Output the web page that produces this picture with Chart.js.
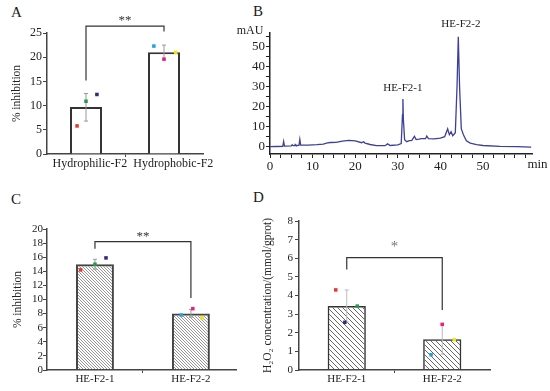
<!DOCTYPE html>
<html><head><meta charset="utf-8">
<script src="https://cdn.jsdelivr.net/npm/chart.js@4"></script>
<style>
html,body{margin:0;padding:0;background:#fff;width:550px;height:391px;overflow:hidden;}
canvas{position:absolute;display:block;}
.letter{position:absolute;font-family:"Liberation Serif","Times New Roman",serif;font-size:15px;line-height:1;color:#1a1a1a;}
</style></head><body>
<div class="letter" style="left:11px;top:5px">A</div>
<div class="letter" style="left:253px;top:4px">B</div>
<div class="letter" style="left:11px;top:192px">C</div>
<div class="letter" style="left:253px;top:190px">D</div>
<canvas id="cA" width="250" height="190" style="left:0;top:0"></canvas>
<canvas id="cB" width="320" height="190" style="left:230px;top:0"></canvas>
<canvas id="cC" width="250" height="201" style="left:0;top:190px"></canvas>
<canvas id="cD" width="300" height="201" style="left:250px;top:190px"></canvas>
<script>
// ================= DATA =================
// Panel A
const catsA = ['Hydrophilic-F2', 'Hydrophobic-F2'];
const meanA = [9.7, 21.0];
const errLoA = [6.8, 19.5];
const errHiA = [12.5, 22.5];
const repsA = [[5.8, 10.9, 12.3], [22.3, 19.6, 21.0]];
const sigA = {y: 26.4, leftEnd: 15.2, rightEnd: 25.3, text: '**', textY: 27.6};
const yTicksA = [0, 5, 10, 15, 20, 25];

// Panel B (chromatogram)
const timeB = [0, 1.5, 3.0, 3.2, 3.4, 5.0, 5.2, 5.4, 5.8, 5.9, 6.1, 6.8, 7.0, 7.2, 9.0, 11.0, 12.5, 13.5, 14.2,
  15.5, 17.0, 18.5, 20.0, 21.5, 22.0, 22.3, 23.5, 25.0, 27.0, 27.6, 28.2, 30.0, 30.8, 31.1, 31.2, 31.3, 31.6,
  32.1, 32.7, 33.3, 33.9, 34.3, 35.0, 35.5, 36.5, 36.8, 37.2, 38.5, 40.0, 41.0, 41.7, 42.1, 42.5, 42.9, 43.5,
  43.9, 44.2, 44.5, 44.9, 45.4, 46.1, 47.0, 48.5, 50.0, 54.0, 58.0, 61.3];
const mAUB = [0.0, 0.1, 0.2, 2.6, 0.3, 0.4, 1.0, 0.5, 0.5, 1.1, 0.6, 0.7, 3.7, 0.8, 0.8, 1.0, 1.3, 1.9, 2.1,
  2.2, 2.8, 3.2, 2.9, 2.0, 2.5, 1.8, 1.1, 0.5, 0.5, 1.4, 0.6, 0.9, 1.6, 16.0, 23.8, 14.0, 3.5,
  2.5, 3.0, 3.2, 5.2, 3.6, 3.8, 4.0, 4.0, 5.3, 4.0, 3.9, 4.3, 5.0, 8.9, 6.0, 7.5, 5.5, 7.0,
  30.0, 55.0, 30.0, 9.0, 6.0, 3.0, 1.8, 1.0, 0.6, 0.2, 0.0, -0.2];
const peakNamesB = ['HE-F2-1', 'HE-F2-2'];
const peakLabelTimeB = [31.2, 44.8];
const peakLabelMAUB = [29.3, 61.3];
const yTicksB = [0, 10, 20, 30, 40, 50];

// Panel C
const catsC = ['HE-F2-1', 'HE-F2-2'];
const meanC = [15.0, 8.0];
const errLoC = [14.3, 7.5];
const errHiC = [15.7, 8.6];
const repsC = [[14.2, 15.0, 15.9], [7.8, 8.7, 7.4]];
const sigC = {y: 18.2, leftEnd: 17.2, rightEnd: 10.2, text: '**', textY: 18.95};
const yTicksC = [0, 2, 4, 6, 8, 10, 12, 14, 16, 18, 20];

// Panel D
const catsD = ['HE-F2-1', 'HE-F2-2'];
const meanD = [3.44, 1.65];
const errLoD = [2.58, 0.85];
const errHiD = [4.30, 2.45];
const repsD = [[4.30, 3.43, 2.56], [0.82, 2.45, 1.63]];
const sigD = {y: 6.03, leftEnd: 5.4, rightEnd: 3.22, text: '*', textY: 6.6};
const yTicksD = [0, 1, 2, 3, 4, 5, 6, 7, 8];

// replicate colours and horizontal jitter (in category units)
const repColors = [['#e5392f', '#1f9e4a', '#2e2b7d'], ['#1ea5e3', '#e8207f', '#f2e41c']];
const jitA = [[-0.115, 0, 0.14], [-0.13, 0, 0.15]];
const jitC = [[-0.15, 0, 0.115], [-0.1, 0.02, 0.115]];
const jitD = [[-0.115, 0.11, -0.02], [-0.117, 0, 0.125]];
// category-label horizontal shift (category units) for panel A
const labelShiftA = [0.05, 0.12];
// ========================================

const FONT = '"Liberation Serif","Times New Roman",serif';
Chart.defaults.font.family = FONT;
Chart.defaults.color = '#222';
Chart.defaults.animation = false;
Chart.defaults.plugins.legend.display = false;
Chart.defaults.plugins.tooltip.enabled = false;

const notes = {
  id: 'notes',
  afterDatasetsDraw(chart, args, opts) {
    const {ctx, chartArea, scales} = chart;
    (opts.items || []).forEach(it => {
      ctx.save();
      ctx.font = (it.size || 12) + 'px ' + FONT;
      ctx.fillStyle = it.color || '#222';
      ctx.textAlign = it.align || 'center';
      ctx.textBaseline = 'middle';
      let px, py;
      if (it.anchor === 'topLeft') { px = chartArea.left + it.dx; py = chartArea.top + it.dy; }
      else if (it.anchor === 'bottomRight') { px = chartArea.right + it.dx; py = chartArea.bottom + it.dy; }
      else if (it.anchor === 'xBottom') { px = scales.x.getPixelForValue(it.x); py = chartArea.bottom + it.dy; }
      else { px = scales.x.getPixelForValue(it.x); py = scales.y.getPixelForValue(it.y); }
      ctx.fillText(it.text, px, py);
      ctx.restore();
    });
  }
};
Chart.register(notes);

function hatch(s, color, lw) {
  const c = document.createElement('canvas');
  c.width = s; c.height = s;
  const g = c.getContext('2d');
  g.strokeStyle = color; g.lineWidth = lw;
  g.beginPath();
  for (const k of [-s, 0, s]) { g.moveTo(-1, k - 1); g.lineTo(s + 1, s + k + 1); }
  g.stroke();
  return g.createPattern(c, 'repeat');
}

function barPanel(id, o) {
  const ds = [];
  ds.push({type: 'bar', data: o.cats.map((c, i) => ({x: i, y: o.mean[i]})),
    backgroundColor: o.fill, borderColor: o.edge, borderWidth: o.edgeW,
    barPercentage: o.barPct, categoryPercentage: 1, order: 5});
  o.cats.forEach((c, i) => ds.push({type: 'line', data: [{x: i, y: o.lo[i]}, {x: i, y: o.hi[i]}],
    borderColor: o.errColor, borderWidth: 1, pointStyle: 'line', pointRadius: o.cap,
    pointBorderColor: o.errColor, pointBorderWidth: 1, order: 4}));
  ds.push({type: 'line', data: [{x: 0, y: o.sig.leftEnd}, {x: 0, y: o.sig.y}, {x: 1, y: o.sig.y}, {x: 1, y: o.sig.rightEnd}],
    borderColor: '#333', borderWidth: 1.2, pointRadius: 0, clip: false, order: 3});
  const pts = [], cols = [];
  o.reps.forEach((r, i) => r.forEach((v, j) => { pts.push({x: i + o.jit[i][j], y: v}); cols.push(repColors[i][j]); }));
  ds.push({type: 'scatter', data: pts, pointStyle: 'rect', pointRadius: 2.5,
    pointBackgroundColor: cols, pointBorderWidth: 0, order: 1});

  const items = [{text: o.sig.text, x: 0.5, y: o.sig.textY, size: o.starSize || 13, color: o.starColor || '#333'}];
  if (o.labelShift) {
    o.cats.forEach((c, i) => items.push({text: c, anchor: 'xBottom', x: i + o.labelShift[i], dy: o.labelDy, size: o.xfont}));
  }

  new Chart(document.getElementById(id), {
    type: 'bar',
    data: {datasets: ds},
    options: {
      responsive: false,
      layout: {padding: o.pad},
      scales: {
        x: {type: 'linear', min: -0.5, max: o.xmax, offset: false,
          afterBuildTicks: s => { s.ticks = [0, 0.5, 1].map(v => ({value: v})); },
          afterFit: s => { s.height = o.xh; },
          ticks: {callback: v => o.labelShift ? '' : (v === 0 ? o.cats[0] : (v === 1 ? o.cats[1] : '')),
            autoSkip: false, maxRotation: 0, font: {size: o.xfont}, color: '#222', padding: o.xpad},
          grid: {drawOnChartArea: false, offset: false, tickLength: 3,
            tickColor: c => (c.tick && c.tick.value === 0.5) ? '#444' : 'rgba(0,0,0,0)'},
          border: {color: '#444', width: 1.5}},
        y: {min: 0, max: o.ymax,
          afterBuildTicks: s => { s.ticks = o.yticks.map(v => ({value: v})); },
          afterFit: s => { s.width = o.yw; },
          ticks: {autoSkip: false, font: {size: o.yfont}, color: '#222', padding: o.ypad},
          title: {display: true, text: o.ytitle, font: {size: o.tfont}, color: '#222', padding: {top: o.tpad, bottom: 0}},
          grid: {drawOnChartArea: false, tickLength: 4, tickColor: '#444'},
          border: {color: '#444', width: 1.5}}
      },
      plugins: {notes: {items: items}}
    }
  });
}

barPanel('cA', {cats: catsA, mean: meanA, lo: errLoA, hi: errHiA, reps: repsA, jit: jitA, sig: sigA,
  fill: '#ffffff', edge: '#333', edgeW: 2, barPct: 0.82, errColor: '#999', cap: 2,
  labelShift: labelShiftA, labelDy: 10,
  pad: {left: 0, right: 47, top: 33, bottom: 0}, xmax: 1.5, xh: 36, yw: 47, ymax: 25, yticks: yTicksA,
  xfont: 12, xpad: 0, yfont: 12, ypad: 1, ytitle: '% inhibition', tfont: 11.5, tpad: 9.8});

barPanel('cC', {cats: catsC, mean: meanC, lo: errLoC, hi: errHiC, reps: repsC, jit: jitC, sig: sigC,
  fill: hatch(3, '#8a8a8a', 0.9), edge: '#444', edgeW: 2, barPct: 0.79, errColor: '#999', cap: 2,
  pad: {left: 0, right: 14, top: 39, bottom: 0}, xmax: 1.47, xh: 21, yw: 47, ymax: 20, yticks: yTicksC,
  xfont: 11, xpad: 0, yfont: 11, ypad: 0, ytitle: '% inhibition', tfont: 11.5, tpad: 11.4});

barPanel('cD', {cats: catsD, mean: meanD, lo: errLoD, hi: errHiD, reps: repsD, jit: jitD, sig: sigD,
  fill: hatch(5, '#555', 0.9), edge: '#333', edgeW: 1.5, barPct: 0.8, errColor: '#bbb', cap: 2,
  pad: {left: 0, right: 60, top: 31, bottom: 0}, xmax: 1.5, xh: 21, yw: 49, ymax: 8, yticks: yTicksD,
  xfont: 11, xpad: 0, yfont: 11, ypad: 2, ytitle: 'H\u2082O\u2082 concentration/(mmol/gprot)', tfont: 11.5, tpad: 11.4,
  starColor: '#777', starSize: 15});

// Panel B chromatogram
const xTicksB = [];
for (let i = 0; i <= 24; i++) xTicksB.push(i * 2.5);
new Chart(document.getElementById('cB'), {
  type: 'scatter',
  data: {datasets: [{data: timeB.map((t, i) => ({x: t, y: mAUB[i]})), showLine: true,
    borderColor: '#3d3f99', borderWidth: 1.3, pointRadius: 0, tension: 0}]},
  options: {
    responsive: false,
    layout: {padding: {left: 0, right: 18, top: 33, bottom: 0}},
    scales: {
      x: {type: 'linear', min: 0, max: 61.5,
        afterBuildTicks: s => { s.ticks = xTicksB.map(v => ({value: v})); },
        afterFit: s => { s.height = 36; },
        ticks: {callback: v => (v % 10 === 0 && v <= 50) ? String(v) : '', autoSkip: false, maxRotation: 0,
          font: {size: 13}, color: '#222', padding: 1},
        grid: {drawOnChartArea: false, tickLength: 4, tickColor: '#222'},
        border: {color: '#222', width: 1.5}},
      y: {min: -3.65, max: 56.85,
        afterBuildTicks: s => { s.ticks = [0, 5, 10, 15, 20, 25, 30, 35, 40, 45, 50, 55].map(v => ({value: v})); },
        afterFit: s => { s.width = 40; },
        ticks: {autoSkip: false, callback: v => yTicksB.includes(v) ? String(v) : '', font: {size: 13}, color: '#222', padding: 1},
        grid: {drawOnChartArea: false, tickLength: 4, tickColor: '#222'},
        border: {color: '#222', width: 1.5}}
    },
    plugins: {notes: {items: [
      {text: peakNamesB[0], x: peakLabelTimeB[0], y: peakLabelMAUB[0], size: 11},
      {text: peakNamesB[1], x: peakLabelTimeB[1], y: peakLabelMAUB[1], size: 11},
      {text: 'mAU', anchor: 'topLeft', dx: -20, dy: -2, size: 12},
      {text: 'min', anchor: 'bottomRight', dx: 5.5, dy: 11, size: 13}
    ]}}
  }
});
</script>
</body></html>
